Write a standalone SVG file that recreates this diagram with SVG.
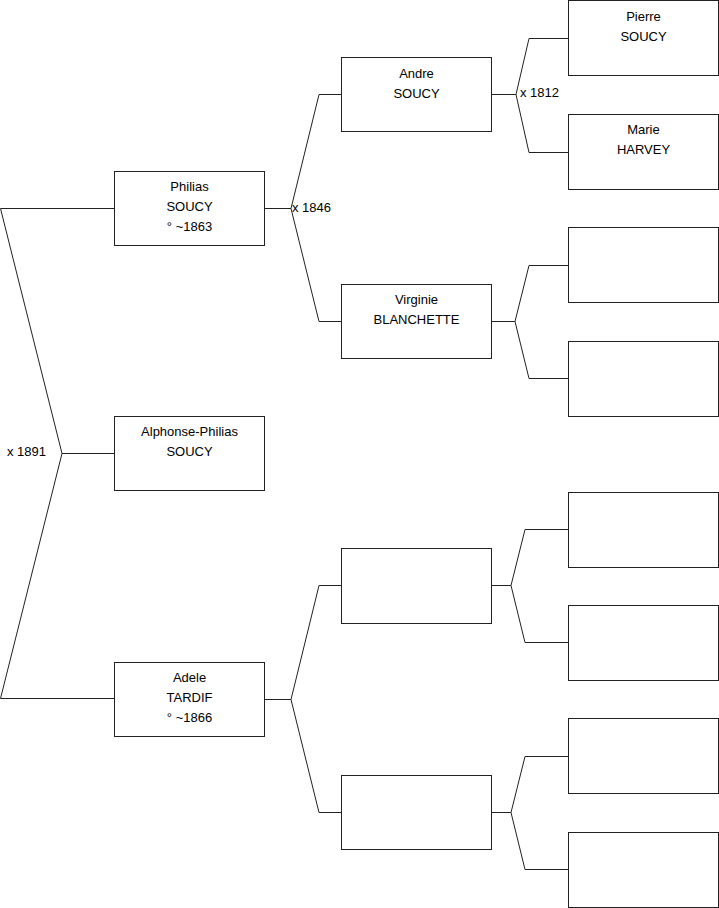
<svg xmlns="http://www.w3.org/2000/svg" width="719" height="908" viewBox="0 0 719 908">
<style>
.box{fill:#fff;stroke:#222;stroke-width:1}
.ln{fill:none;stroke:#222;stroke-width:1}
text{font-family:"Liberation Sans",Arial,sans-serif;font-size:13px;fill:#000}
.c{text-anchor:middle}
</style>
<rect width="719" height="908" fill="#fff"/>
<g id="connectors">
<polyline class="ln" points="114,208.5 0.5,208.5 62,453.5 0.5,698.5 114,698.5"/>
<line class="ln" x1="62" y1="453.5" x2="114" y2="453.5"/>
<polyline class="ln" points="265,208.5 291,208.5"/>
<polyline class="ln" points="341,94.5 319,94.5 291,208.5 319,321.5 341,321.5"/>
<polyline class="ln" points="265,699.5 291,699.5"/>
<polyline class="ln" points="341,585.5 319,585.5 291,699.5 319,812.5 341,812.5"/>
<polyline class="ln" points="491,94.5 516,94.5"/>
<polyline class="ln" points="568,38.5 529,38.5 516,94.5 529,152.5 568,152.5"/>
<polyline class="ln" points="491,321.5 515,321.5"/>
<polyline class="ln" points="568,265.5 529,265.5 515,321.5 529,378.5 568,378.5"/>
<polyline class="ln" points="491,585.5 511,585.5"/>
<polyline class="ln" points="568,529.5 525,529.5 511,585.5 525,642.5 568,642.5"/>
<polyline class="ln" points="491,812.5 511,812.5"/>
<polyline class="ln" points="568,756.5 525,756.5 511,812.5 525,869.5 568,869.5"/>
<text x="292" y="212">x 1846</text>
<text x="520" y="97">x 1812</text>
<text x="7" y="456">x 1891</text>
</g>
<g id="philias">
<rect class="box" x="114.5" y="171.5" width="150" height="74"/>
<text class="c" x="189.5" y="191">Philias</text>
<text class="c" x="189.5" y="211">SOUCY</text>
<text class="c" x="189.5" y="231">° ~1863</text>
</g>
<g id="alphonse">
<rect class="box" x="114.5" y="416.5" width="150" height="74"/>
<text class="c" x="189.5" y="436">Alphonse-Philias</text>
<text class="c" x="189.5" y="456">SOUCY</text>
</g>
<g id="adele">
<rect class="box" x="114.5" y="662.5" width="150" height="74"/>
<text class="c" x="189.5" y="682">Adele</text>
<text class="c" x="189.5" y="702">TARDIF</text>
<text class="c" x="189.5" y="722">° ~1866</text>
</g>
<g id="andre">
<rect class="box" x="341.5" y="57.5" width="150" height="74"/>
<text class="c" x="416.5" y="78">Andre</text>
<text class="c" x="416.5" y="98">SOUCY</text>
</g>
<g id="virginie">
<rect class="box" x="341.5" y="284.5" width="150" height="74"/>
<text class="c" x="416.5" y="304">Virginie</text>
<text class="c" x="416.5" y="324">BLANCHETTE</text>
</g>
<g id="f2a"><rect class="box" x="341.5" y="548.5" width="150" height="75"/></g>
<g id="f2b"><rect class="box" x="341.5" y="775.5" width="150" height="74"/></g>
<g id="pierre">
<rect class="box" x="568.5" y="0.5" width="150" height="75"/>
<text class="c" x="643.5" y="21">Pierre</text>
<text class="c" x="643.5" y="41">SOUCY</text>
</g>
<g id="marie">
<rect class="box" x="568.5" y="114.5" width="150" height="75"/>
<text class="c" x="643.5" y="134">Marie</text>
<text class="c" x="643.5" y="154">HARVEY</text>
</g>
<g id="g3c"><rect class="box" x="568.5" y="227.5" width="150" height="75"/></g>
<g id="g3d"><rect class="box" x="568.5" y="341.5" width="150" height="75"/></g>
<g id="g3e"><rect class="box" x="568.5" y="492.5" width="150" height="75"/></g>
<g id="g3f"><rect class="box" x="568.5" y="605.5" width="150" height="75"/></g>
<g id="g3g"><rect class="box" x="568.5" y="718.5" width="150" height="75"/></g>
<g id="g3h"><rect class="box" x="568.5" y="832.5" width="150" height="75"/></g>
</svg>
